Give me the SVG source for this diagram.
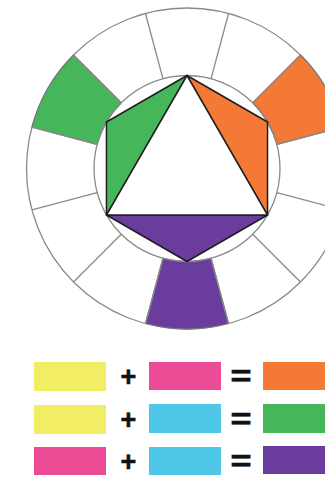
<svg xmlns="http://www.w3.org/2000/svg" width="325" height="479" viewBox="0 0 325 479">
<style>
.ring{fill:none;stroke:#8a8a8a;stroke-width:1.3}
.seg{stroke:#7a7a7a;stroke-width:1.2}
.hex{stroke:#1e1e1e;stroke-width:1.5;stroke-linejoin:round}
.g{fill:#45b65a}
.o{fill:#f47836}
.p{fill:#6a3c9e}
.y{fill:#f2ee63}
.k{fill:#ec4b96}
.c{fill:#4fc7e8}
.op{font-family:"Liberation Sans",Arial,sans-serif;font-weight:bold;fill:#111;stroke:#111;stroke-width:0.6;text-anchor:middle}
.pl{font-size:27px}
.eq{font-size:30px}
</style>
<rect width="325" height="479" fill="#ffffff"/>
<g id="wheel">
  <circle class="ring" cx="187" cy="168.5" r="160.5" fill="#fff"/>
  <path id="seg-green" class="seg g" d="M31.97,127.04 A160.5,160.5 0 0 1 73.51,55.01 L121.24,102.74 A93,93 0 0 0 97.17,144.43 Z"/>
  <path id="seg-orange" class="seg o" d="M300.49,55.01 A160.5,160.5 0 0 1 342.03,127.04 L276.83,144.43 A93,93 0 0 0 252.76,102.74 Z"/>
  <path id="seg-purple" class="seg p" d="M228.54,323.53 A160.5,160.5 0 0 1 145.46,323.53 L162.93,258.33 A93,93 0 0 0 211.07,258.33 Z"/>
  <g class="ring">
    <line x1="211.07" y1="78.67" x2="228.54" y2="13.47"/>
    <line x1="252.76" y1="102.74" x2="300.49" y2="55.01"/>
    <line x1="276.83" y1="144.43" x2="342.03" y2="127.04"/>
    <line x1="276.83" y1="192.57" x2="342.03" y2="209.96"/>
    <line x1="252.76" y1="234.26" x2="300.49" y2="281.99"/>
    <line x1="211.07" y1="258.33" x2="228.54" y2="323.53"/>
    <line x1="162.93" y1="258.33" x2="145.46" y2="323.53"/>
    <line x1="121.24" y1="234.26" x2="73.51" y2="281.99"/>
    <line x1="97.17" y1="192.57" x2="31.97" y2="209.96"/>
    <line x1="97.17" y1="144.43" x2="31.97" y2="127.04"/>
    <line x1="121.24" y1="102.74" x2="73.51" y2="55.01"/>
    <line x1="162.93" y1="78.67" x2="145.46" y2="13.47"/>
  </g>
  <circle class="ring" cx="187" cy="168.5" r="93"/>
</g>
<g id="hexagon">
  <polygon id="hex-green" class="hex g" points="187,75.5 106.46,122 106.46,215"/>
  <polygon id="hex-orange" class="hex o" points="187,75.5 267.54,122 267.54,215"/>
  <polygon id="hex-purple" class="hex p" points="106.46,215 187,261.5 267.54,215"/>
  <polygon id="triangle" class="hex" fill="#fff" points="187,75.5 267.54,215 106.46,215"/>
</g>
<g id="row1">
  <rect class="y" x="34" y="362" width="72" height="29"/>
  <text class="op pl" x="128.5" y="385.5">+</text>
  <rect class="k" x="149" y="362" width="72" height="28"/>
  <text class="op eq" transform="translate(241,0) scale(1.2,1)" x="0" y="386.5">=</text>
  <rect class="o" x="263" y="362" width="70" height="28"/>
</g>
<g id="row2">
  <rect class="y" x="34" y="405" width="72" height="29"/>
  <text class="op pl" x="128.5" y="428.5">+</text>
  <rect class="c" x="149" y="404" width="72" height="29"/>
  <text class="op eq" transform="translate(241,0) scale(1.2,1)" x="0" y="429">=</text>
  <rect class="g" x="263" y="404" width="70" height="29"/>
</g>
<g id="row3">
  <rect class="k" x="34" y="447" width="72" height="28"/>
  <text class="op pl" x="128.5" y="470.5">+</text>
  <rect class="c" x="149" y="447" width="72" height="28"/>
  <text class="op eq" transform="translate(241,0) scale(1.2,1)" x="0" y="471">=</text>
  <rect class="p" x="263" y="446" width="70" height="28"/>
</g>
</svg>
